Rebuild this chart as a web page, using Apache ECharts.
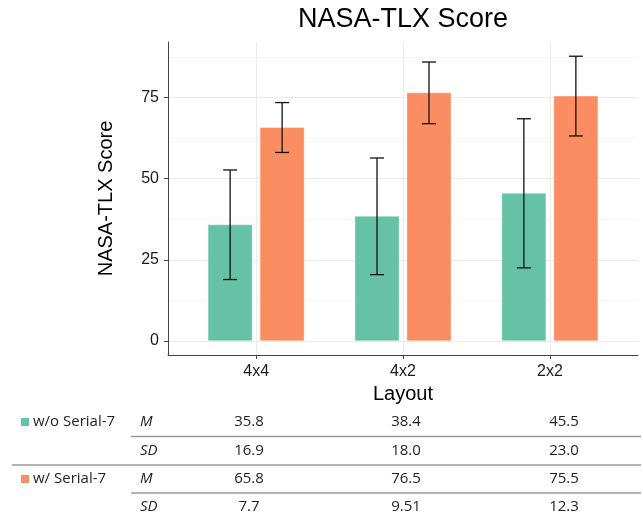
<!DOCTYPE html>
<html>
<head>
<meta charset="utf-8">
<title>NASA-TLX Score</title>
<script src="https://cdn.jsdelivr.net/npm/echarts@6/dist/echarts.min.js"></script>
<style>
  html, body { margin: 0; padding: 0; background: #fff; }
  #chart { width: 643px; height: 519px; }
</style>
</head>
<body>
<div id="chart"></div>
<script>
// ---- data ----
const layouts = ['4x4', '4x2', '2x2'];
const groups = ['w/o Serial-7', 'w/ Serial-7'];
const meanWithout = [35.8, 38.4, 45.5];
const sdWithout = [16.9, 18.0, 23.0];
const meanWith = [65.8, 76.5, 75.5];
const sdWith = [7.7, 9.51, 12.3];
const yTicks = [0, 25, 50, 75];
const yMinorTicks = [12.5, 37.5, 62.5, 87.5];

// ---- styling / geometry ----
const COLORS = ['#66C2A5', '#FC8D62'];
const FONT = 'Liberation Sans, Arial, sans-serif';
const TABLE_FONT = 'Open Sans, Noto Sans, sans-serif';
const PLOT = { left: 168, top: 42, width: 470, height: 313 };
const Y_MIN = -4.39, Y_MAX = 92.19;
const X_MIN = 0.4, X_MAX = 3.6;
const DODGE = 0.177, BAR_W = 0.3, CAP_W = 0.095;

const means = [meanWithout, meanWith];
const sds = [sdWithout, sdWith];

// show at least one decimal, keep extra decimals when present
function fmt(v) {
  const s = String(v);
  return s.indexOf('.') >= 0 ? s : v.toFixed(1);
}

function barRenderer(g) {
  const off = g === 0 ? -DODGE : DODGE;
  return function (params, api) {
    const x = api.value(0) + off;
    const m = api.value(1);
    const sd = api.value(2);
    const base = api.coord([x - BAR_W / 2, 0]);
    const tip = api.coord([x + BAR_W / 2, m]);
    const hi = api.coord([x, m + sd]);
    const lo = api.coord([x, m - sd]);
    const capHalf = (api.coord([x + CAP_W / 2, 0])[0] - api.coord([x - CAP_W / 2, 0])[0]) / 2;
    const lineStyle = { stroke: '#111', lineWidth: 1.3 };
    return {
      type: 'group',
      children: [
        {
          type: 'rect',
          shape: { x: base[0], y: tip[1], width: tip[0] - base[0], height: base[1] - tip[1] },
          style: { fill: COLORS[g], stroke: 'rgba(255,255,255,0.35)', lineWidth: 1 }
        },
        { type: 'line', shape: { x1: hi[0], y1: hi[1], x2: lo[0], y2: lo[1] }, style: lineStyle },
        { type: 'line', shape: { x1: hi[0] - capHalf, y1: hi[1], x2: hi[0] + capHalf, y2: hi[1] }, style: lineStyle },
        { type: 'line', shape: { x1: lo[0] - capHalf, y1: lo[1], x2: lo[0] + capHalf, y2: lo[1] }, style: lineStyle }
      ]
    };
  };
}

const series = groups.map(function (name, g) {
  return {
    name: name,
    type: 'custom',
    xAxisIndex: 0,
    yAxisIndex: 0,
    encode: { x: 0, y: 1 },
    renderItem: barRenderer(g),
    data: layouts.map(function (_, i) { return [i + 1, means[g][i], sds[g][i]]; }),
    z: 3
  };
});

// ---- summary table under the chart ----
const TABLE = {
  colX: [249, 406, 564],
  rowY: [422, 450.5, 479, 507],
  statX: 140,
  labelX: 33,
  swatchX: 21,
  lineRight: 641,
  innerLineLeft: 131,
  outerLineLeft: 12
};
const textColor = '#1f1f1f';
const graphics = [];

graphics.push({
  type: 'text', x: 403, y: 20,
  style: { text: 'NASA-TLX Score', fill: '#000', fontSize: 27, fontFamily: FONT, align: 'center', verticalAlign: 'middle' }
});

function cell(text, x, y, align, italic) {
  return {
    type: 'text', x: x, y: y,
    style: {
      text: text, fill: textColor, fontSize: 15, fontFamily: TABLE_FONT,
      fontStyle: italic ? 'italic' : 'normal', align: align, verticalAlign: 'middle'
    }
  };
}

groups.forEach(function (name, g) {
  const yM = TABLE.rowY[g * 2];
  const ySD = TABLE.rowY[g * 2 + 1];
  graphics.push({
    type: 'rect',
    shape: { x: TABLE.swatchX, y: yM - 4, width: 8, height: 8 },
    style: { fill: COLORS[g] }
  });
  graphics.push(cell(name, TABLE.labelX, yM, 'left', false));
  graphics.push(cell('M', TABLE.statX, yM, 'left', true));
  graphics.push(cell('SD', TABLE.statX, ySD, 'left', true));
  layouts.forEach(function (_, i) {
    graphics.push(cell(fmt(means[g][i]), TABLE.colX[i], yM, 'center', false));
    graphics.push(cell(fmt(sds[g][i]), TABLE.colX[i], ySD, 'center', false));
  });
});

const ruleStyle = { stroke: '#9a9a9a', lineWidth: 1.5 };
[[TABLE.innerLineLeft, 436.5], [TABLE.outerLineLeft, 465], [TABLE.innerLineLeft, 493]].forEach(function (r) {
  graphics.push({
    type: 'line',
    shape: { x1: r[0], y1: r[1], x2: TABLE.lineRight, y2: r[1] },
    style: ruleStyle
  });
});

// ---- chart ----
const chart = echarts.init(document.getElementById('chart'), null, { renderer: 'canvas' });
chart.setOption({
  animation: false,
  backgroundColor: '#fff',
  textStyle: { fontFamily: FONT },
  grid: { left: PLOT.left, top: PLOT.top, width: PLOT.width, height: PLOT.height, containLabel: false },
  xAxis: [{
    type: 'value',
    min: X_MIN,
    max: X_MAX,
    name: 'Layout',
    nameLocation: 'middle',
    nameGap: 25,
    nameTextStyle: { fontSize: 20, color: '#000', fontFamily: FONT },
    axisLine: { show: true, onZero: false, lineStyle: { color: '#444', width: 1 } },
    axisTick: { show: true, length: 4, customValues: [1, 2, 3], lineStyle: { color: '#444' } },
    axisLabel: {
      customValues: [1, 2, 3],
      formatter: function (v) { return layouts[Math.round(v) - 1]; },
      fontSize: 16, color: '#1a1a1a', margin: 9, fontFamily: FONT
    },
    splitLine: { show: true, lineStyle: { color: '#EBEBEB', width: 1 } }
  }],
  yAxis: [{
    type: 'value',
    min: Y_MIN,
    max: Y_MAX,
    name: 'NASA-TLX Score',
    nameLocation: 'middle',
    nameGap: 52,
    nameTextStyle: { fontSize: 20, color: '#000', fontFamily: FONT },
    axisLine: { show: true, onZero: false, lineStyle: { color: '#444', width: 1 } },
    axisTick: { show: true, length: 4, customValues: yTicks, lineStyle: { color: '#444' } },
    axisLabel: { customValues: yTicks, fontSize: 16, color: '#1a1a1a', margin: 9, fontFamily: FONT },
    splitLine: { show: true, lineStyle: { color: '#EBEBEB', width: 1 } }
  }, {
    type: 'value',
    min: Y_MIN,
    max: Y_MAX,
    position: 'left',
    axisLine: { show: false },
    axisTick: { show: false, customValues: yMinorTicks },
    axisLabel: { show: false, customValues: yMinorTicks },
    splitLine: { show: true, lineStyle: { color: '#F5F5F5', width: 1 } }
  }],
  series: series,
  graphic: graphics
});
</script>
</body>
</html>
